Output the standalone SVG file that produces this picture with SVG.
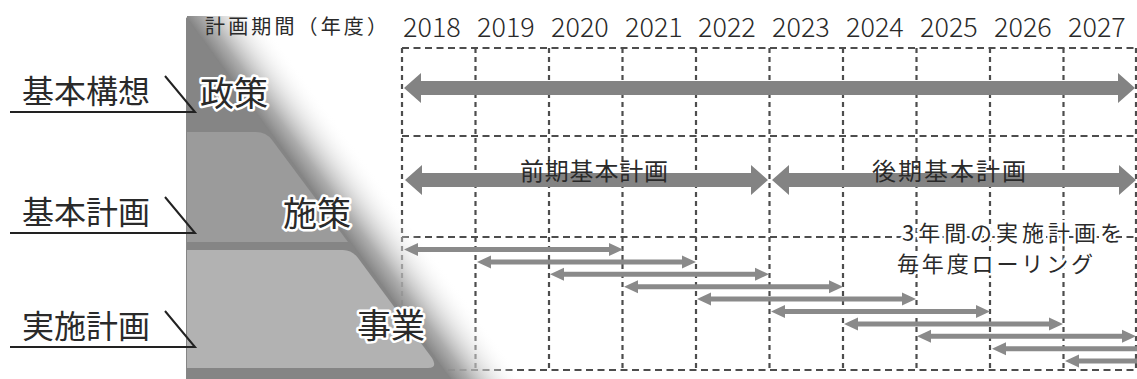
<svg xmlns="http://www.w3.org/2000/svg" xmlns:xlink="http://www.w3.org/1999/xlink" width="1137" height="379" viewBox="0 0 1137 379">
<style>
.jp{font-family:"Noto Sans CJK JP","Noto Sans",sans-serif;fill:#2a2a2a}
.yr{font-family:"Noto Sans CJK JP","Noto Sans",sans-serif;font-size:27px;font-weight:300;fill:#2a2a2a}
.halo{stroke:#fff;stroke-width:5;stroke-linejoin:round;paint-order:stroke}
.vg{stroke:#4d4d4d;stroke-width:2.2;stroke-dasharray:5 4;fill:none}
.hg{stroke:#4d4d4d;stroke-width:2.2;stroke-dasharray:7 4.5;fill:none}
.big{fill:#838383}
.sm{fill:#8a8a8a}
.ul{stroke:#222;stroke-width:2;fill:none}
</style>
<defs>
<linearGradient id="shade" gradientUnits="userSpaceOnUse" x1="187" y1="18" x2="235.5" y2="-17.3">
<stop offset="0" stop-color="#858585" stop-opacity="1"/>
<stop offset="0.25" stop-color="#a4a4a4" stop-opacity="0.9"/>
<stop offset="0.6" stop-color="#d6d6d6" stop-opacity="0.55"/>
<stop offset="1" stop-color="#ffffff" stop-opacity="0"/>
</linearGradient>
<path id="sa" d="M0 0 L14 -6.5 L14 -2.5 L205 -2.5 L205 -6.5 L219 0 L205 6.5 L205 2.5 L14 2.5 L14 6.5 Z"/>
</defs>

<g id="grid">
<line class="hg" x1="402" y1="48" x2="1137" y2="48"/>
<line class="hg" x1="402" y1="136" x2="1137" y2="136"/>
<line class="hg" x1="402" y1="237" x2="1137" y2="237"/>
<line class="hg" x1="402" y1="370" x2="1137" y2="370"/>
<line class="vg" x1="402" y1="48" x2="402" y2="370"/>
<line class="vg" x1="475.5" y1="48" x2="475.5" y2="370"/>
<line class="vg" x1="549" y1="48" x2="549" y2="370"/>
<line class="vg" x1="622.5" y1="48" x2="622.5" y2="370"/>
<line class="vg" x1="696" y1="48" x2="696" y2="370"/>
<line class="vg" x1="769.5" y1="48" x2="769.5" y2="370"/>
<line class="vg" x1="843" y1="48" x2="843" y2="370"/>
<line class="vg" x1="916.5" y1="48" x2="916.5" y2="370"/>
<line class="vg" x1="990" y1="48" x2="990" y2="370"/>
<line class="vg" x1="1063.5" y1="48" x2="1063.5" y2="370"/>
<line class="vg" x1="1136" y1="48" x2="1136" y2="370"/>
</g>

<g id="pyramid">
<polygon points="187,16 262,16 570,379 187,379" fill="url(#shade)"/>
<polygon points="186,17 451,379 186,379" fill="#858585"/>
<path d="M187 132 H256 Q266 132 272 140 L348 242 H187 Z" fill="#9b9b9b"/>
<path d="M187 250 H343 Q352 250 358 258 L432 358 Q438 368 428 368 H187 Z" fill="#b2b2b2"/>
</g>

<g id="years" class="yr">
<text x="403" y="37">2018</text>
<text x="477" y="37">2019</text>
<text x="551" y="37">2020</text>
<text x="625" y="37">2021</text>
<text x="698" y="37">2022</text>
<text x="772" y="37">2023</text>
<text x="846" y="37">2024</text>
<text x="920" y="37">2025</text>
<text x="994" y="37">2026</text>
<text x="1068" y="37">2027</text>
</g>
<text id="period-label" class="jp" x="205" y="34" font-size="20" textLength="182" lengthAdjust="spacing">計画期間（年度）</text>

<g id="connectors">
<path class="big" d="M404 88 L421 73 L421 81 L1118 81 L1118 73 L1135 88 L1118 103 L1118 95 L421 95 L421 103 Z"/>
<path class="big" d="M405 180 L422 165 L422 173 L751 173 L751 165 L768 180 L751 195 L751 187 L422 187 L422 195 Z"/>
<path class="big" d="M772 180 L789 165 L789 173 L1119 173 L1119 165 L1136 180 L1119 195 L1119 187 L789 187 L789 195 Z"/>
<use class="sm" xlink:href="#sa" x="404" y="249.5"/>
<use class="sm" xlink:href="#sa" x="477" y="261.9"/>
<use class="sm" xlink:href="#sa" x="550" y="274.3"/>
<use class="sm" xlink:href="#sa" x="624" y="286.7"/>
<use class="sm" xlink:href="#sa" x="697" y="299.1"/>
<use class="sm" xlink:href="#sa" x="771" y="311.5"/>
<use class="sm" xlink:href="#sa" x="844" y="323.9"/>
<use class="sm" xlink:href="#sa" x="917" y="336.3"/>
<use class="sm" xlink:href="#sa" x="992" y="348.7"/>
<use class="sm" xlink:href="#sa" x="1065" y="361.1"/>
</g>

<g id="plan-labels">
<text class="jp" x="520" y="180" font-size="24" textLength="148" lengthAdjust="spacing" fill="#3a3a3a">前期基本計画</text>
<text class="jp" x="872" y="180" font-size="24" textLength="154" lengthAdjust="spacing" fill="#3a3a3a">後期基本計画</text>
<text class="jp halo" x="902" y="241" font-size="22" textLength="220" lengthAdjust="spacing">3年間の実施計画を</text>
<text class="jp halo" x="897" y="272" font-size="22" textLength="196" lengthAdjust="spacing">毎年度ローリング</text>
</g>

<g id="level-kihonkoso">
<text class="jp" x="22" y="103" font-size="32">基本構想</text>
<path class="ul" d="M10 112 H195 L165 76"/>
<text class="jp halo" x="200" y="106" font-size="34">政策</text>
</g>
<g id="level-kihonkeikaku">
<text class="jp" x="22" y="224" font-size="32">基本計画</text>
<path class="ul" d="M10 233 H195 L165 197"/>
<text class="jp halo" x="283" y="226" font-size="34">施策</text>
</g>
<g id="level-jisshikeikaku">
<text class="jp" x="22" y="338" font-size="32">実施計画</text>
<path class="ul" d="M10 347 H195 L165 311"/>
<text class="jp halo" x="357" y="338" font-size="34">事業</text>
</g>
</svg>
